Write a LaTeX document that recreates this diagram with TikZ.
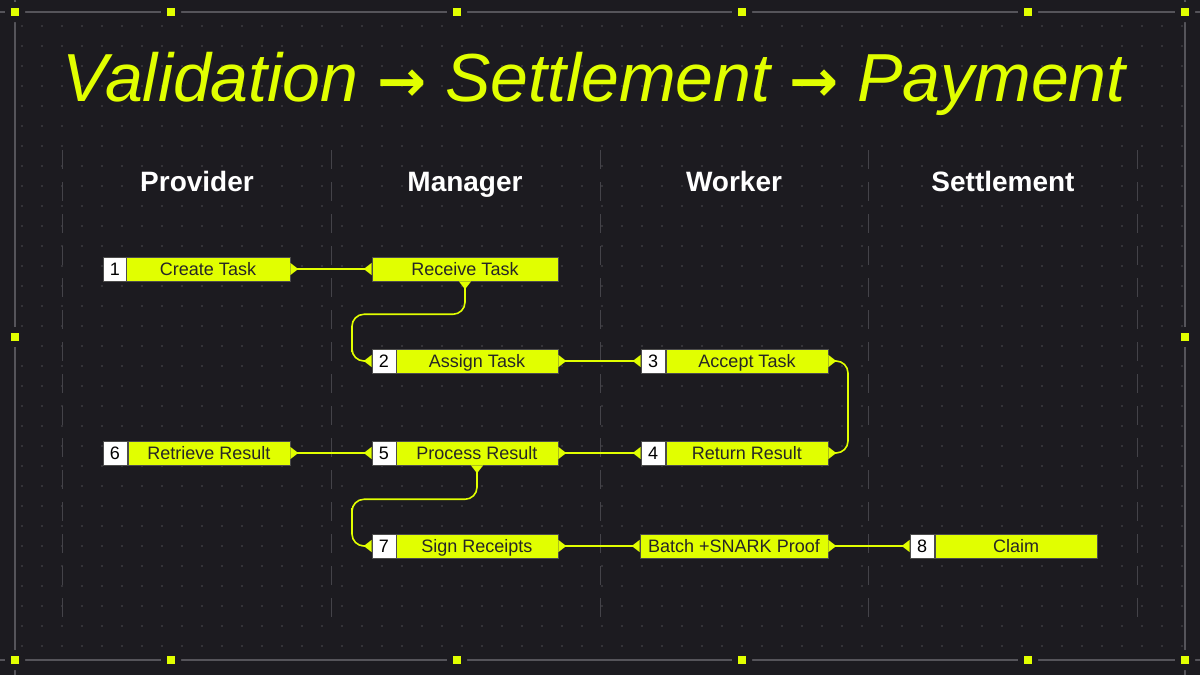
\documentclass[tikz,border=0pt]{standalone}
\usepackage{fontspec}
\setmainfont{Liberation Sans}
\newfontfamily\symfnt{DejaVu Sans}
\usetikzlibrary{arrows.meta}
\definecolor{bg}{HTML}{1C1B20}
\definecolor{lime}{HTML}{E1FF00}
\definecolor{frame}{HTML}{55545A}
\tikzset{
  stepbox/.style={draw=black!70, fill=lime, minimum height=18pt, text height=11pt, text depth=1pt, inner sep=0pt, font=\fontsize{13.5}{15}\selectfont, text=black!85},
  numbox/.style={draw=black!70, fill=white, minimum height=18pt, text height=11pt, text depth=1pt, minimum width=18pt, inner sep=0pt, font=\fontsize{13.5}{15}\selectfont},
  head/.style={text=white, anchor=base, font=\fontsize{21}{24}\selectfont\bfseries},
  link/.style={lime, line width=1.2pt, rounded corners=9pt, {Triangle[reversed,length=6pt,width=9pt]}-{Triangle[reversed,length=6pt,width=9pt]}},
  framemark/.style={fill=lime, minimum size=5.5pt, inner sep=0pt}
}
\begin{document}
\begin{tikzpicture}[x=0.75pt, y=-0.75pt]
  \fill[bg] (0,0) rectangle (1200,675);
  \useasboundingbox (0,0) rectangle (1200,675);

  % dot grid
  \foreach \i in {0,...,58}
    \foreach \j in {0,...,31}
      \fill[white!22!bg] (22+\i*20, 26+\j*20) circle (0.6pt);

  % column guides
  \foreach \x in {62,331,600,868,1137}
    \draw[frame!70!bg, dash pattern=on 14pt off 10pt] (\x,150) -- (\x,620);

  % frame
  \draw[frame, line width=0.8pt] (0,12) -- (1200,12) (0,660) -- (1200,660)
    (15,0) -- (15,675) (1185,0) -- (1185,675);
  \foreach \x in {15,171,457,742,1028,1185} {
    \fill[bg] (\x-10,2) rectangle (\x+10,22) (\x-10,650) rectangle (\x+10,670);
    \node[framemark] at (\x,12) {};
    \node[framemark] at (\x,660) {};
  }
  \foreach \x in {15,1185} {
    \fill[bg] (\x-10,327) rectangle (\x+10,347);
    \node[framemark] at (\x,337) {};
  }

  % title
  \node[text=lime, font=\fontsize{51}{58}\selectfont\itshape] (title) at (594,84)
    {Validation {\symfnt\upshape\bfseries\fontsize{44}{50}\selectfont→} Settlement {\symfnt\upshape\bfseries\fontsize{44}{50}\selectfont→} Payment};

  % lane headers
  \node[head] (hprov) at (197,191) {Provider};
  \node[head] (hman) at (465,191) {Manager};
  \node[head] (hwork) at (734,191) {Worker};
  \node[head] (hset) at (1003,191) {Settlement};

  % steps
  \node[numbox] (n1) at (115,269) {1};
  \node[stepbox, minimum width=123pt] (create) at (208,269) {Create Task};
  \node[stepbox, minimum width=139.5pt] (receive) at (465,269) {Receive Task};
  \node[numbox] (n2) at (384,361) {2};
  \node[stepbox, minimum width=121.5pt] (assign) at (477,361) {Assign Task};
  \node[numbox] (n3) at (653,361) {3};
  \node[stepbox, minimum width=121.5pt] (accept) at (747,361) {Accept Task};
  \node[numbox] (n4) at (653,453) {4};
  \node[stepbox, minimum width=121.5pt] (return) at (747,453) {Return Result};
  \node[numbox] (n5) at (384,453) {5};
  \node[stepbox, minimum width=121.5pt] (process) at (477,453) {Process Result};
  \node[numbox] (n6) at (115,453) {6};
  \node[stepbox, minimum width=121.5pt] (retrieve) at (209,453) {Retrieve Result};
  \node[numbox] (n7) at (384,546) {7};
  \node[stepbox, minimum width=121.5pt] (sign) at (477,546) {Sign Receipts};
  \node[stepbox, minimum width=141pt] (batch) at (734,546) {Batch +SNARK Proof};
  \node[numbox] (n8) at (922,546) {8};
  \node[stepbox, minimum width=121.5pt] (claim) at (1016,546) {Claim};

  % links
  \draw[link] (create) -- (receive);
  \draw[link] (receive.south) -- ++(0,33) -| (352,340) |- (n2);
  \draw[link] (assign) -- (n3);
  \draw[link] (accept.east) -| (848,420) |- (return.east);
  \draw[link] (n4) -- (process);
  \draw[link] (n5) -- (retrieve);
  \draw[link] (process.south) -- ++(0,34) -| (352,520) |- (n7);
  \draw[link] (sign) -- (batch);
  \draw[link] (batch) -- (n8);
\end{tikzpicture}
\end{document}
